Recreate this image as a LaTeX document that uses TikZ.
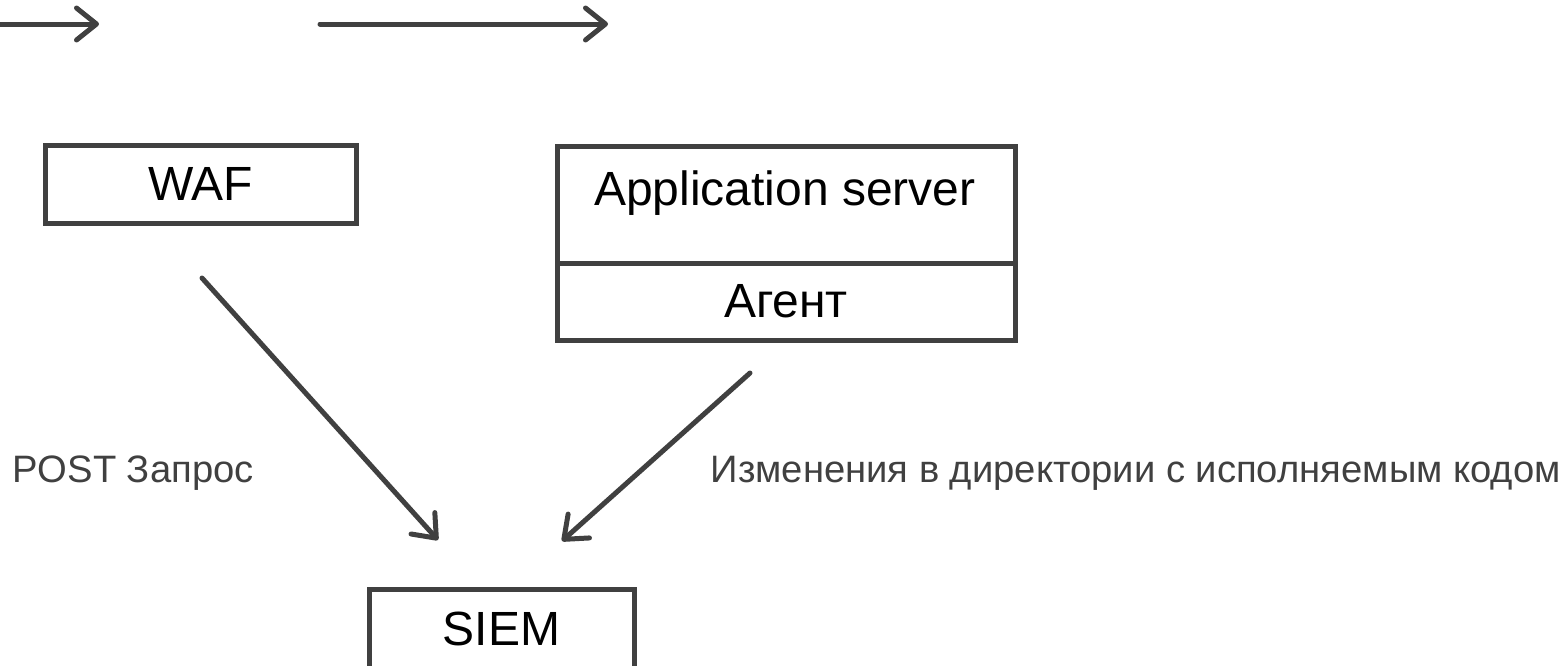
\documentclass[tikz,border=0pt]{standalone}
\usepackage{fontspec}
\setmainfont{Liberation Sans}
\usetikzlibrary{arrows.meta}
\definecolor{ink}{HTML}{404040}
\begin{document}
\begin{tikzpicture}[x=0.5pt,y=-0.5pt,
  box/.style={draw=ink, line width=2.5pt, fill=white, inner sep=0pt,
    font=\fontsize{24}{28}\selectfont, text=black},
  title/.style={inner sep=0pt, font=\fontsize{24}{28}\selectfont, text=black},
  note/.style={inner sep=0pt, font=\fontsize{19.1}{22}\selectfont, text=ink},
  flow/.style={draw=ink, line width=2.5pt, line cap=round,
    -{Straight Barb[length=10pt,width=16pt,round]}}]
\useasboundingbox (0,0) rectangle (1565,665);
\clip (0,0) rectangle (1565,665);

% request flow along the top
\coordinate (in0) at (0,24);
\coordinate (in1) at (99,24);
\coordinate (mid0) at (320,24);
\coordinate (mid1) at (608,24);
\draw[flow] (in0) -- (in1);
\draw[flow] (mid0) -- (mid1);

% components
\node[box, minimum width=155.5pt, minimum height=39pt] (waf) at (200.5,184) {WAF};
\node[box, minimum width=229pt, minimum height=58.5pt] (app) at (786,204.5) {};
\node[title, anchor=base] (apptitle) at (785,205) {Application server};
\node[box, minimum width=229pt, minimum height=38.5pt] (agent) at (786,301.5) {Агент};
\node[box, minimum width=132.5pt, minimum height=40pt] (siem) at (501.5,629) {SIEM};

% events sent to the SIEM
\coordinate (w0) at (202,278);
\coordinate (w1) at (438,540);
\coordinate (a0) at (750,373);
\coordinate (a1) at (562,541);
\draw[flow] (w0) -- (w1);
\draw[flow] (a0) -- (a1);

\node[note, anchor=base west] (postlbl) at (12,482) {POST Запрос};
\node[note, anchor=base east] (dirlbl) at (1561,482) {Изменения в директории с исполняемым кодом};
\end{tikzpicture}
\end{document}
